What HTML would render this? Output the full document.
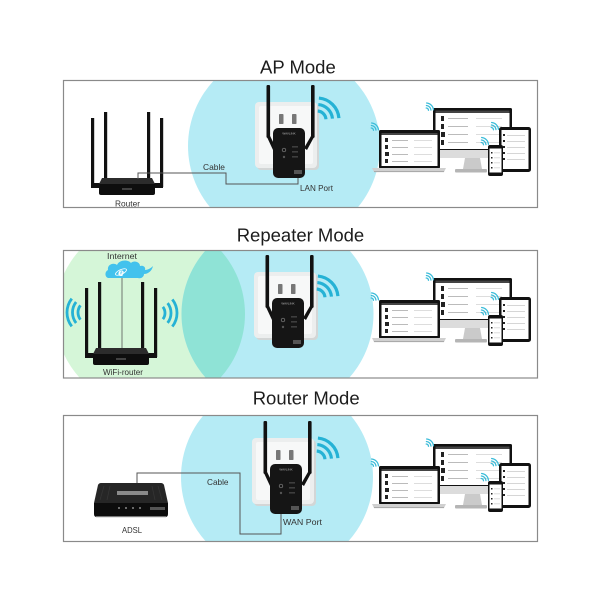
<!DOCTYPE html>
<html><head><meta charset="utf-8"><style>
html,body{margin:0;padding:0;background:#fff;}
svg{display:block;}
text{font-family:"Liberation Sans",Arial,sans-serif;}
</style></head><body>
<svg width="600" height="600" viewBox="0 0 600 600">
<defs>
<clipPath id="c1"><rect x="64" y="81" width="473" height="126"/></clipPath>
<clipPath id="c2"><rect x="64" y="251" width="473" height="127"/></clipPath>
<clipPath id="c3"><rect x="64" y="416" width="473" height="125"/></clipPath>
<clipPath id="gc"><circle cx="150" cy="314" r="95"/></clipPath>

<g id="router">
  <rect x="91" y="118" width="3.2" height="69" fill="#111"/>
  <rect x="104" y="112" width="3.2" height="70" fill="#111"/>
  <rect x="147" y="112" width="3.2" height="70" fill="#111"/>
  <rect x="160" y="118" width="3.2" height="69" fill="#111"/>
  <rect x="91" y="183" width="10" height="5" fill="#111"/>
  <rect x="153" y="183" width="10" height="5" fill="#111"/>
  <path d="M102,178 H152 L155,184 H99 Z" fill="#2c2c2c"/>
  <path d="M99,184 H155 V193 Q155,195 153,195 H101 Q99,195 99,193 Z" fill="#0e0e0e"/>
  <rect x="122" y="188.5" width="10" height="1" fill="#777"/>
</g>

<g id="ext">
  <rect x="257" y="104" width="62" height="66" rx="4" fill="#d3d6d6"/>
  <rect x="255" y="102" width="62" height="66" rx="4" fill="#eceeee"/>
  <rect x="259" y="106" width="54" height="58" rx="2" fill="#f7f8f8"/>
  <rect x="279" y="114" width="4.5" height="10" rx="0.8" fill="#777"/>
  <rect x="292" y="114" width="4.5" height="10" rx="0.8" fill="#777"/>
  <rect x="266.5" y="85" width="3.6" height="53" rx="1.2" fill="#111"/>
  <rect x="311" y="85" width="3.6" height="53" rx="1.2" fill="#111"/>
  <polygon points="266.5,136 270.1,136 276,148 273,150" fill="#111"/>
  <polygon points="314.6,136 311,136 304,148 307,150" fill="#111"/>
  <rect x="273" y="128" width="32" height="50" rx="5" fill="#151515"/>
  <text x="289" y="134.5" font-size="3" fill="#bbb" text-anchor="middle">WAVLINK</text>
  <circle cx="284" cy="150" r="1.8" fill="none" stroke="#888" stroke-width="0.7"/>
  <rect x="292" y="146.5" width="6" height="0.8" fill="#666"/>
  <rect x="292" y="151.5" width="6" height="0.8" fill="#666"/>
  <rect x="292" y="156.5" width="6" height="0.8" fill="#666"/>
  <circle cx="284" cy="157" r="1.2" fill="#555"/>
  <rect x="294" y="170" width="8" height="4" fill="#555"/>
</g>

<g id="dev">
  <!-- monitor -->
  <rect x="433" y="108" width="79" height="44" rx="1.5" fill="#111"/>
  <rect x="433" y="150" width="79" height="8" rx="1" fill="#dcdcdc"/>
  <rect x="435.5" y="110.5" width="74" height="38.5" fill="#fff"/>
  <rect x="435.5" y="110.5" width="74" height="2.5" fill="#444"/>
  <rect x="441" y="116" width="3" height="5" fill="#222"/><rect x="448" y="118" width="20" height="1" fill="#bbb"/><rect x="476" y="118" width="26" height="1" fill="#ddd"/>
  <rect x="441" y="124" width="3" height="5" fill="#222"/><rect x="448" y="126" width="20" height="1" fill="#bbb"/><rect x="476" y="126" width="26" height="1" fill="#ddd"/>
  <rect x="441" y="132" width="4" height="5" fill="#222"/><rect x="448" y="134" width="20" height="1" fill="#bbb"/><rect x="476" y="134" width="26" height="1" fill="#ddd"/>
  <rect x="441" y="140" width="3" height="5" fill="#222"/><rect x="448" y="142" width="20" height="1" fill="#bbb"/><rect x="476" y="142" width="26" height="1" fill="#ddd"/>
  <path d="M465,158 L480,158 L482,169 L463,169 Z" fill="#cacaca"/>
  <rect x="455" y="169" width="32" height="3.5" rx="1" fill="#b5b5b5"/>
  <!-- laptop -->
  <rect x="379" y="130" width="61" height="38.5" rx="1.5" fill="#111"/>
  <rect x="381.5" y="133" width="56" height="33" fill="#fff"/>
  <rect x="381.5" y="133" width="56" height="2" fill="#444"/>
  <rect x="385" y="138" width="3" height="4" fill="#222"/><rect x="392" y="140" width="16" height="1" fill="#bbb"/><rect x="414" y="140" width="18" height="1" fill="#ddd"/>
  <rect x="385" y="145" width="3" height="4" fill="#222"/><rect x="392" y="147" width="16" height="1" fill="#bbb"/><rect x="414" y="147" width="18" height="1" fill="#ddd"/>
  <rect x="385" y="152" width="4" height="4" fill="#222"/><rect x="392" y="154" width="16" height="1" fill="#bbb"/><rect x="414" y="154" width="18" height="1" fill="#ddd"/>
  <rect x="385" y="159" width="3" height="4" fill="#222"/><rect x="392" y="161" width="16" height="1" fill="#bbb"/><rect x="414" y="161" width="18" height="1" fill="#ddd"/>
  <path d="M372,168 H446 L444,172 H374 Z" fill="#d0d0d0"/>
  <rect x="374" y="171.3" width="70" height="0.8" fill="#999"/>
  <!-- tablet -->
  <rect x="499" y="127" width="32" height="45" rx="2.5" fill="#111"/>
  <rect x="501.5" y="130" width="27" height="39" fill="#fff"/>
  <rect x="503" y="134" width="2" height="2" fill="#222"/><rect x="507" y="135" width="18" height="0.8" fill="#ccc"/>
  <rect x="503" y="140" width="2" height="2" fill="#222"/><rect x="507" y="141" width="18" height="0.8" fill="#ccc"/>
  <rect x="503" y="146" width="2" height="2" fill="#222"/><rect x="507" y="147" width="18" height="0.8" fill="#ccc"/>
  <rect x="503" y="152" width="2" height="2" fill="#222"/><rect x="507" y="153" width="18" height="0.8" fill="#ccc"/>
  <rect x="503" y="158" width="2" height="2" fill="#222"/><rect x="507" y="159" width="18" height="0.8" fill="#ccc"/>
  <!-- phone -->
  <rect x="488" y="145" width="15" height="31" rx="2" fill="#111"/>
  <rect x="489.5" y="148.5" width="12" height="24" fill="#fff"/>
  <rect x="491" y="152" width="1.5" height="1.5" fill="#222"/><rect x="494" y="152.5" width="6" height="0.7" fill="#ccc"/>
  <rect x="491" y="157" width="1.5" height="1.5" fill="#222"/><rect x="494" y="157.5" width="6" height="0.7" fill="#ccc"/>
  <rect x="491" y="162" width="1.5" height="1.5" fill="#222"/><rect x="494" y="162.5" width="6" height="0.7" fill="#ccc"/>
  <rect x="491" y="167" width="1.5" height="1.5" fill="#222"/><rect x="494" y="167.5" width="6" height="0.7" fill="#ccc"/>
</g>

<g id="ws" fill="none" stroke="#3bbcd9" stroke-width="1.3" stroke-linecap="round">
  <path d="M0.22,-2.49A2.5,2.5 0 0 1 2.49,-0.22M0.44,-4.98A5,5 0 0 1 4.98,-0.44M0.65,-7.47A7.5,7.5 0 0 1 7.47,-0.65"/>
</g>
<g id="wb" fill="none" stroke="#25b2d5" stroke-width="3.2">
  <path d="M0.78,-8.97A9,9 0 0 1 8.97,-0.78M1.35,-15.44A15.5,15.5 0 0 1 15.44,-1.35M1.92,-21.92A22,22 0 0 1 21.92,-1.92"/>
</g>
</defs>

<!-- Titles -->
<text x="260" y="73.3" font-size="18.5" fill="#1c1c1c">AP Mode</text>
<text x="236.7" y="241.3" font-size="18.5" fill="#1c1c1c">Repeater Mode</text>
<text x="252.7" y="404.5" font-size="18.5" fill="#1c1c1c">Router Mode</text>

<!-- ============ PANEL 1 ============ -->
<g clip-path="url(#c1)">
  <circle cx="284" cy="146" r="96" fill="#b5ebf5"/>
</g>
<use href="#router"/>
<path d="M138,179 V173 H226 V184 H298 V173" fill="none" stroke="#555" stroke-width="1"/>
<use href="#ext"/>
<use href="#wb" x="317" y="120"/>
<use href="#dev"/>
<use href="#ws" x="371" y="130.5"/>
<use href="#ws" x="426" y="110.5"/>
<use href="#ws" x="491" y="130"/>
<use href="#ws" x="481" y="145"/>
<text x="115" y="206.5" font-size="8" fill="#333" textLength="25" lengthAdjust="spacingAndGlyphs">Router</text>
<text x="203" y="170" font-size="8.5" fill="#333" textLength="22" lengthAdjust="spacingAndGlyphs">Cable</text>
<text x="300" y="191" font-size="8.5" fill="#333" textLength="33" lengthAdjust="spacingAndGlyphs">LAN Port</text>
<rect x="63.5" y="80.5" width="474" height="127" fill="none" stroke="#8a8a8a" stroke-width="1.2"/>

<!-- ============ PANEL 2 ============ -->
<g clip-path="url(#c2)">
  <circle cx="150" cy="314" r="95" fill="#d5f6d8"/>
  <circle cx="277.5" cy="314" r="96" fill="#b5ebf5"/>
  <g clip-path="url(#gc)">
    <circle cx="277.5" cy="314" r="96" fill="#8fe3d6"/>
  </g>
</g>
<line x1="122" y1="278" x2="122" y2="350" stroke="#555" stroke-width="0.8"/>
<path d="M109,278 C105,278 104,272 108,270 C107,265 113,262 117,265 C119,260 128,259 131,263 C134,260 140,262 140,266 C143,265 146,267 145,270 C148,270 151,268 153,266 C152,271 148,274 144,274 C144,277 141,279 138,278 Z" fill="#42c2ed"/>
<ellipse cx="121" cy="272" rx="6" ry="2.3" fill="none" stroke="#fff" stroke-width="0.8" transform="rotate(-25 121 272)"/>
<text x="121" y="276" font-size="10.5" font-weight="bold" font-style="italic" fill="#fff" text-anchor="middle">e</text>
<use href="#router" transform="translate(-6,170)"/>
<g fill="none" stroke="#25b2d5" stroke-width="2.8">
  <path d="M80.44,319.58A11.5,11.5 0 0 1 80.44,305.42M76.1,322.97A17,17 0 0 1 76.1,302.03M71.77,326.36A22.5,22.5 0 0 1 71.77,298.64"/>
  <path d="M162.88,306.84A10,10 0 0 1 162.88,319.16M167.61,303.14A16,16 0 0 1 167.61,322.86M172.34,299.45A22,22 0 0 1 172.34,326.55"/>
</g>
<use href="#ext" transform="translate(-1,170)"/>
<use href="#wb" x="316" y="298"/>
<use href="#dev" transform="translate(0,170)"/>
<use href="#ws" x="371" y="300.5"/>
<use href="#ws" x="426" y="280.5"/>
<use href="#ws" x="491" y="300"/>
<use href="#ws" x="481" y="315"/>
<text x="107" y="259" font-size="8" fill="#333" textLength="30" lengthAdjust="spacingAndGlyphs">Internet</text>
<text x="103" y="375" font-size="8.5" fill="#333" textLength="40" lengthAdjust="spacingAndGlyphs">WiFi-router</text>
<rect x="63.5" y="250.5" width="474" height="127.5" fill="none" stroke="#8a8a8a" stroke-width="1.2"/>

<!-- ============ PANEL 3 ============ -->
<g clip-path="url(#c3)">
  <circle cx="277" cy="477" r="96" fill="#b5ebf5"/>
</g>
<path d="M137,484 V473 H240 V534 H281 V512" fill="none" stroke="#555" stroke-width="1"/>
<!-- ADSL modem -->
<path d="M101,483 H161 Q163,483 164,485 L168,503 H94 L98,485 Q99,483 101,483 Z" fill="#262626"/>
<g stroke="#353535" stroke-width="0.8">
  <line x1="104" y1="486" x2="100" y2="500"/><line x1="110" y1="486" x2="107" y2="500"/>
  <line x1="152" y1="486" x2="155" y2="500"/><line x1="158" y1="486" x2="162" y2="500"/>
</g>
<rect x="117" y="491" width="31" height="4" fill="#8a8a8a"/>
<path d="M94,503 H168 V514 Q168,517 165,517 H97 Q94,517 94,514 Z" fill="#0c0c0c"/>
<rect x="96" y="516" width="70" height="1.2" fill="#777"/>
<circle cx="119" cy="508" r="1" fill="#888"/><circle cx="126" cy="508" r="1" fill="#888"/>
<circle cx="133" cy="508" r="1" fill="#888"/><circle cx="140" cy="508" r="1" fill="#888"/>
<rect x="150" y="507" width="15" height="3" fill="#555"/>
<use href="#ext" transform="translate(-3,336)"/>
<use href="#wb" x="316" y="460"/>
<use href="#dev" transform="translate(0,336)"/>
<use href="#ws" x="371" y="466.5"/>
<use href="#ws" x="426" y="446.5"/>
<use href="#ws" x="491" y="466"/>
<use href="#ws" x="481" y="481"/>
<text x="207" y="485" font-size="8.5" fill="#333" textLength="21.5" lengthAdjust="spacingAndGlyphs">Cable</text>
<text x="283" y="525" font-size="8.5" fill="#333" textLength="39" lengthAdjust="spacingAndGlyphs">WAN Port</text>
<text x="122" y="533" font-size="8.5" fill="#333" textLength="20" lengthAdjust="spacingAndGlyphs">ADSL</text>
<rect x="63.5" y="415.5" width="474" height="126" fill="none" stroke="#8a8a8a" stroke-width="1.2"/>
</svg>
</body></html>
